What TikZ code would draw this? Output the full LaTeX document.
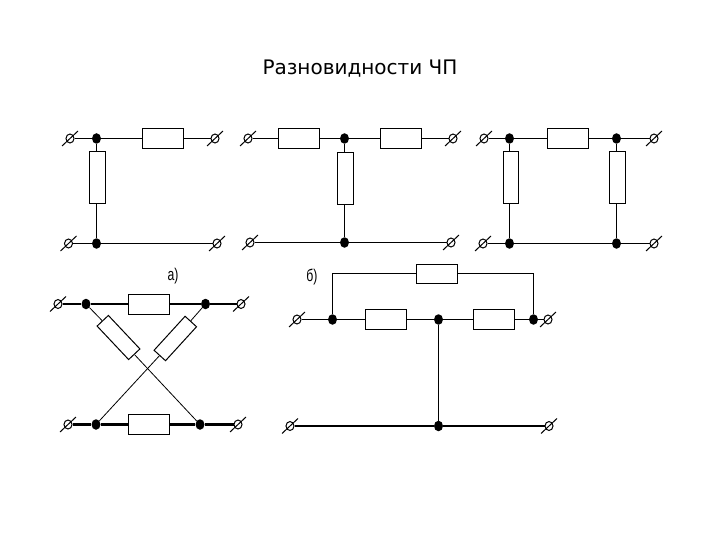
\documentclass[tikz,border=0pt]{standalone}
\usepackage{fontspec}
\setmainfont{DejaVu Sans}
\newfontfamily\narrowfont{Liberation Sans}
\usetikzlibrary{shapes.geometric}
\tikzset{
  wire/.style={line width=1pt,black},
  thickwire/.style={line width=2.2pt,black},
  res/.style={draw=black,line width=1pt,fill=white,inner sep=0pt,minimum width=41pt,minimum height=20pt},
  vres/.style={draw=black,line width=1pt,fill=white,inner sep=0pt,minimum width=16pt,minimum height=52pt},
  dres/.style={draw=black,line width=1pt,fill=white,inner sep=0pt,minimum width=46pt,minimum height=15.5pt},
  junction/.style={ellipse,fill=black,draw=none,inner sep=0pt,minimum width=9pt,minimum height=10.5pt},
  termhead/.style={ellipse,draw=black,line width=1pt,fill=white,inner sep=0pt,minimum width=8pt,minimum height=9pt},
  slash/.style={line width=1pt,black}
}
\newcommand{\tm}[2]{%
  \node[termhead] (#1) at (#2) {};
  \draw[slash] ([shift={(-8,7.5)}]#1.center) -- ([shift={(8,-7.5)}]#1.center);
}
\newcommand{\jn}[2]{\node[junction] (#1) at (#2) {};}
\begin{document}
\begin{tikzpicture}[x=1pt,y=-1pt]
\useasboundingbox (0,0) rectangle (720,540);
\fill[white] (0,0) rectangle (720,540);
\node[font=\fontsize{20}{24}\selectfont] (title) at (360,69) {Разновидности ЧП};
\node[font=\narrowfont\fontsize{17}{20}\selectfont,xscale=0.72] (la) at (173,276) {а)};
\node[font=\narrowfont\fontsize{17}{20}\selectfont,xscale=0.72] (lb) at (312,277) {б)};

% Circuit 1
\tm{a1}{70,138.5} \tm{a2}{215,138.5} \tm{a3}{68.5,243.5} \tm{a4}{217,243.5}
\jn{aj1}{96.5,138.5} \jn{aj2}{96.5,243.5}
\node[res] (ar1) at (163,138.5) {};
\node[vres] (ar2) at (97.5,178) {};
\draw[wire] (a1) -- (aj1) -- (ar1) -- (a2);
\draw[wire] (a3) -- (aj2) -- (a4);
\draw[wire] (aj1.south) -- (aj1.south|-ar2.north);
\draw[wire] (aj2.north|-ar2.south) -- (aj2.north);

% Circuit 2
\tm{b1}{248,138.5} \tm{b2}{453,138.5} \tm{b3}{250,242.5} \tm{b4}{451,242.5}
\jn{bj1}{344.5,138.5} \jn{bj2}{344.5,242.5}
\node[res] (br1) at (299,138.5) {};
\node[res] (br2) at (400.5,138.5) {};
\node[vres] (br3) at (345,179) {};
\draw[wire] (b1) -- (br1) -- (bj1) -- (br2) -- (b2);
\draw[wire] (b3) -- (bj2) -- (b4);
\draw[wire] (bj1.south) -- (bj1.south|-br3.north);
\draw[wire] (bj2.north|-br3.south) -- (bj2.north);

% Circuit 3
\tm{c1}{484,138.5} \tm{c2}{654,138.5} \tm{c3}{483,243.5} \tm{c4}{654,243.5}
\jn{cj1}{509.5,138.5} \jn{cj2}{616.5,138.5} \jn{cj3}{509.5,243.5} \jn{cj4}{616.5,243.5}
\node[res] (cr1) at (567.5,138.5) {};
\node[vres,minimum width=15pt] (cr2) at (511,178) {};
\node[vres] (cr3) at (617.5,178) {};
\draw[wire] (c1) -- (cj1) -- (cr1) -- (cj2) -- (c2);
\draw[wire] (c3) -- (cj3) -- (cj4) -- (c4);
\draw[wire] (cj1.south) -- (cj1.south|-cr2.north);
\draw[wire] (cj3.north|-cr2.south) -- (cj3.north);
\draw[wire] (cj2.south) -- (cj2.south|-cr3.north);
\draw[wire] (cj4.north|-cr3.south) -- (cj4.north);

% Lattice
\tm{d1}{58,304} \tm{d2}{241,304} \tm{d3}{68,424.5} \tm{d4}{238,424.5}
\jn{dj1}{86,304} \jn{dj2}{205.5,304} \jn{dj3}{96,424.5} \jn{dj4}{200,424.5}
\node[res] (dr1) at (148.5,304) {};
\node[res] (dr2) at (148.5,424.5) {};
\node[dres,rotate=-46.7] (dr3) at (118.5,337.5) {};
\node[dres,rotate=47.6] (dr4) at (175.3,338.5) {};
\draw[thickwire] (d1) -- (dj1) -- (dr1) -- (dj2) -- (d2);
\draw[thickwire] (d3) -- (dj3) -- (dr2) -- (dj4) -- (d4);
\draw[wire,line width=0.8pt] (dj1) -- (dr3) -- (dj4);
\draw[wire,line width=0.8pt] (dj2) -- (dr4) -- (dj3);

% Bridged T
\tm{e1}{297,319.5} \tm{e2}{548,319.5} \tm{e3}{290,426} \tm{e4}{549,426}
\jn{ej1}{332.5,319.5} \jn{ej2}{438.5,319.5} \jn{ej3}{533.5,319.5} \jn{ej4}{438.5,426}
\node[res] (er1) at (385.5,319.5) {};
\node[res] (er2) at (493.5,319.5) {};
\node[res,minimum height=19pt] (er3) at (437,273.5) {};
\draw[wire] (e1) -- (ej1) -- (er1) -- (ej2) -- (er2) -- (ej3) -- (e2);
\draw[thickwire] (e3) -- (ej4) -- (e4);
\draw[wire] (ej1.north) |- (er3.west);
\draw[wire] (ej3.north) |- (er3.east);
\draw[wire] (ej2) -- (ej4);
\end{tikzpicture}
\end{document}
